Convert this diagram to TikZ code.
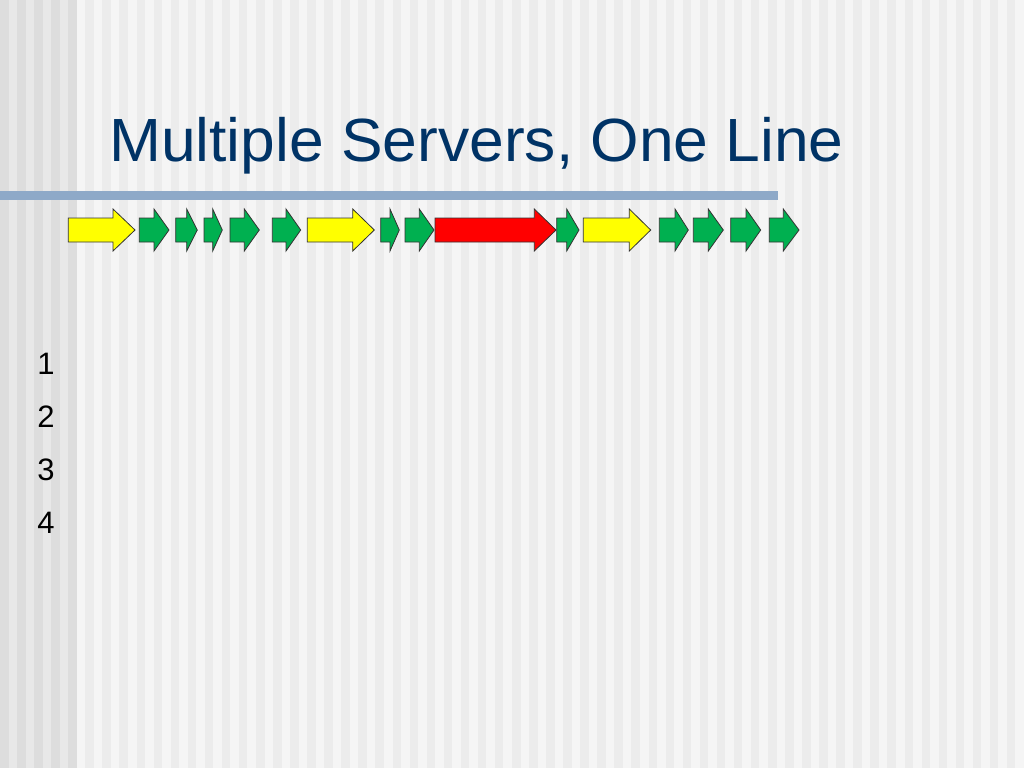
\documentclass[tikz,border=0pt]{standalone}
\usepackage{fontspec}
\setmainfont{Liberation Sans}
\definecolor{titleblue}{RGB}{0,51,102}
\definecolor{barblue}{RGB}{142,169,200}
\definecolor{bglight}{RGB}{245,245,245}
\definecolor{bgdark}{RGB}{236,236,236}
\definecolor{lglight}{RGB}{232,232,232}
\definecolor{lgdark}{RGB}{221,221,221}
\definecolor{agreen}{RGB}{0,176,80}
\definecolor{ayellow}{RGB}{255,255,0}
\definecolor{ared}{RGB}{255,0,0}
\tikzset{
  arrowline/.style={draw=black!80, line width=0.8pt, line join=miter},
  numlabel/.style={anchor=base, inner sep=0pt, font=\fontsize{31}{36}\selectfont}
}
\newcommand\blockarrow[4]{%
  \draw[arrowline, fill=#1] (#2,218) -- (#3,218) -- (#3,209) -- (#4,230) -- (#3,251) -- (#3,242) -- (#2,242) -- cycle;}
\begin{document}
\begin{tikzpicture}[x=1pt,y=-1pt]
\useasboundingbox (0,0) rectangle (1024,768);
\fill[bglight] (0,0) rectangle (1024,768);
\fill[lglight] (0,0) rectangle (77,768);
\foreach \k in {0,...,59} {
  \pgfmathsetmacro\xa{\k*17.0667}
  \pgfmathsetmacro\xb{\k*17.0667+8.53}
  \ifnum\k<5
    \fill[lgdark] (\xa,0) rectangle (\xb,768);
  \else
    \fill[bgdark] (\xa,0) rectangle (\xb,768);
  \fi
}
\node[anchor=base west, inner sep=0pt, text=titleblue, xscale=1.022, font=\fontsize{61}{72}\selectfont] (title) at (109,161.7) {Multiple Servers, One Line};
\fill[barblue] (0,191) rectangle (778,200);
% arrows
\blockarrow{ayellow}{68.3}{113}{135}
\blockarrow{agreen}{139.3}{154}{169}
\blockarrow{agreen}{175.7}{186.7}{197.3}
\blockarrow{agreen}{204}{212.7}{222.3}
\blockarrow{agreen}{230}{244.3}{259.3}
\blockarrow{agreen}{272.3}{286}{300.7}
\blockarrow{ayellow}{307.3}{352.7}{374.3}
\blockarrow{agreen}{380.7}{390}{399.3}
\blockarrow{agreen}{405}{419.3}{434}
\blockarrow{ared}{435}{534.3}{556}
\blockarrow{agreen}{556.7}{566.7}{579}
\blockarrow{ayellow}{583.3}{629.3}{650.7}
\blockarrow{agreen}{659.3}{675}{688.3}
\blockarrow{agreen}{693.3}{708.3}{723.3}
\blockarrow{agreen}{730.7}{746}{760.7}
\blockarrow{agreen}{769.3}{783.3}{799}
% numbers
\node[numlabel] (n1) at (46,374) {1};
\node[numlabel] (n2) at (46,427) {2};
\node[numlabel] (n3) at (46,480) {3};
\node[numlabel] (n4) at (46,533) {4};
\end{tikzpicture}
\end{document}
